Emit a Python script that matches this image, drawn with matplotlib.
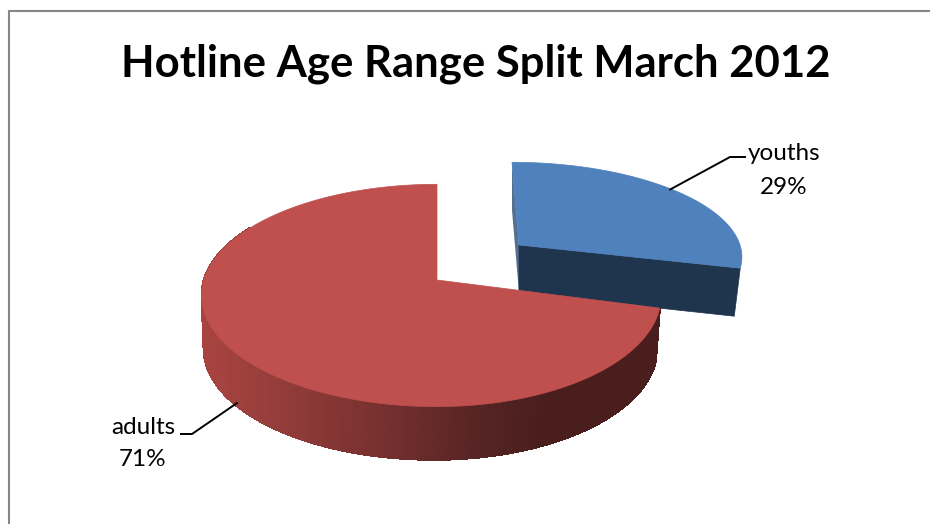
#!/usr/bin/python
import numpy as np
from matplotlib import pyplot as plt
from matplotlib.patches import Polygon

# Chart data
labels = ["youths", "adults"]
values = [29, 71]
title = "Hotline Age Range Split March 2012"

plt.rcParams['font.family'] = ['Lato', 'DejaVu Sans']

fig = plt.figure(figsize=(9.3, 5.24), dpi=100)
ax = fig.add_axes([0, 0, 1, 1])
ax.set_xlim(0, 930)
ax.set_ylim(524, 0)
ax.axis('off')


# Project a clockwise-from-12-o'clock angle (degrees) to the screen,
# with a bit of perspective so the near side of the disc looks bigger
def project(deg, cx, cy, rxl, rxr, ry, k, shear=0.0):
    t = np.radians(deg)
    u = np.sin(t)
    v = np.cos(t)
    w = 1 + k * v
    rx = np.where(u < 0, rxl, rxr)
    return cx + rx * u / w + shear * v, cy - ry * v / w


# Size of each slice
total = float(sum(values))
youthSweep = 360.0 * values[0] / total
youthMid = youthSweep / 2
adultMid = youthSweep + (360.0 - youthSweep) / 2

# Exploded youths slice, top face and bottom face
blueTop = dict(cx=519, cy=245, rxl=221, rxr=221, ry=91, k=0.1, shear=-7)
blueLow = dict(cx=515, cy=293, rxl=220, rxr=220, ry=91, k=0.1, shear=-3)
# Adults slice
redTop = dict(cx=437, cy=280, rxl=233, rxr=222, ry=109, k=0.139)
redLow = dict(cx=434, cy=333, rxl=228, rxr=221, ry=109, k=0.139)

# youths: side faces first, then the top
ang = np.linspace(0, youthSweep, 80)
sx, sy = project(0.0, **blueTop)
ex, ey = project(youthSweep, **blueTop)
sxl, syl = project(0.0, **blueLow)
exl, eyl = project(youthSweep, **blueLow)
ax.add_patch(Polygon([(sx, sy), (519, 245), (519, 293), (sxl, syl)],
                     closed=True, fc='#56708f', ec='none', zorder=1))
ax.add_patch(Polygon([(519, 245), (ex, ey), (exl, eyl), (519, 293)],
                     closed=True, fc='#1f344d', ec='#1f344d', lw=0.5, zorder=2))
bx, by = project(ang, **blueTop)
ax.fill(np.r_[519, bx], np.r_[245, by], fc='#4f81bd', ec='#4f81bd', lw=0.5, zorder=3)

# adults: the rim is shaded from left to right in thin strips
ang = np.linspace(youthSweep, 360.0, 260)
tx, ty = project(ang, **redTop)
lx, ly = project(ang, **redLow)
shadeX = [205, 300, 400, 480, 540]
shadeR = [168, 142, 112, 86, 75]
shadeG = [68, 58, 46, 36, 30]
shadeB = [64, 56, 45, 36, 30]
for i in range(len(ang) - 1):
    # the back of the rim is hidden behind the top face
    if ang[i] > 300:
        continue
    xm = (tx[i] + tx[i + 1]) / 2
    col = (np.interp(xm, shadeX, shadeR) / 255,
           np.interp(xm, shadeX, shadeG) / 255,
           np.interp(xm, shadeX, shadeB) / 255)
    ax.add_patch(Polygon([(tx[i], ty[i]), (tx[i + 1], ty[i + 1]),
                          (lx[i + 1], ly[i + 1]), (lx[i], ly[i])],
                         closed=True, fc=col, ec=col, lw=1.0, antialiased=False, zorder=4))
ax.fill(np.r_[437, tx], np.r_[280, ty], fc='#c0504d', ec='#c0504d', lw=0.5, zorder=5)

# Leader lines start on the middle of each slice
ax1, ay1 = project(youthMid, **blueTop)
ax.plot([ax1 - 9, 730, 745], [ay1 - 3, 157, 157], color='black', lw=1.4,
        solid_joinstyle='miter', zorder=6)
ax2, ay2 = project(adultMid, **redLow)
ax.plot([ax2, 192, 181], [ay2 - 3, 434, 434], color='black', lw=1.4,
        solid_joinstyle='miter', zorder=6)

ax.text(784, 153, labels[0], fontsize=17.5, ha='center', va='center', color='black')
ax.text(784, 187, "{0}%".format(values[0]), fontsize=17.5, ha='center', va='center', color='black')
ax.text(143, 428, labels[1], fontsize=17.5, ha='center', va='center', color='black')
ax.text(143, 459, "{0}%".format(values[1]), fontsize=17.5, ha='center', va='center', color='black')

ax.text(476, 77, title, fontsize=31.4, fontweight='bold', ha='center', va='baseline', color='black')

# Chart frame, only top and left show in the crop
ax.plot([8.5, 8.5, 930], [524, 11, 11], color='#868686', lw=1.5, zorder=0)

plt.savefig("out.png", dpi=100)
